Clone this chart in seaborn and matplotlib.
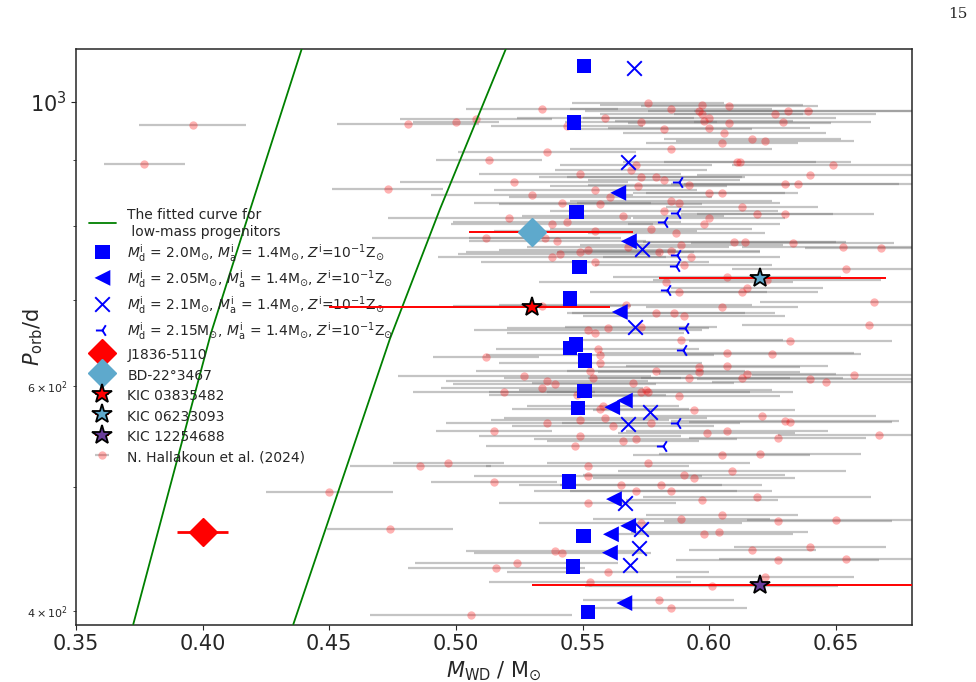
import matplotlib
matplotlib.use("Agg")
import matplotlib.pyplot as plt
import seaborn as sns

sns.set_style("ticks")
plt.rcParams["font.family"] = ["DejaVu Sans"]
plt.rcParams["mathtext.fontset"] = "dejavusans"

# fitted curves for low-mass progenitors
fit1_mass = [0.3726, 0.4033, 0.4187, 0.4391]
fit1_period = [390.3, 659.5, 823.1, 1100]
fit2_mass = [0.4358, 0.4739, 0.4937, 0.5197]
fit2_period = [390.3, 652.3, 824.5, 1100]

# binary models
sq_mass = [0.5506, 0.5467, 0.5477, 0.5487, 0.5450, 0.5474, 0.5450, 0.5509, 0.5507, 0.5482, 0.5447, 0.5503, 0.5462, 0.5521]
sq_period = [1067, 964, 820, 743, 702, 646, 642, 628, 594, 576, 505, 457.5, 433, 399]
tri_mass = [0.5641, 0.5683, 0.5647, 0.5667, 0.5617, 0.5624, 0.5680, 0.5612, 0.5608, 0.5665]
tri_period = [849, 778, 685, 584, 577, 489, 466, 459, 444, 405.5]
x_mass = [0.5704, 0.5681, 0.5733, 0.5707, 0.5766, 0.5678, 0.5667, 0.5730, 0.5724, 0.5687]
x_period = [1064, 898, 767, 667, 572, 560, 486, 463, 447.5, 434]
y_mass = [0.5880, 0.5871, 0.5821, 0.5871, 0.5868, 0.5832, 0.5904, 0.5897, 0.5874, 0.5819]
y_period = [865, 818, 805, 759, 744, 713, 665, 639.5, 561, 538]

model_labels = [
    r"$M_{\rm d}^{\rm i}$ = 2.0M$_{\odot}$, $M_{\rm a}^{\rm i}$ = 1.4M$_{\odot}$, $Z^{\rm i}$=10$^{-1}$Z$_{\odot}$",
    r"$M_{\rm d}^{\rm i}$ = 2.05M$_{\odot}$, $M_{\rm a}^{\rm i}$ = 1.4M$_{\odot}$, $Z^{\rm i}$=10$^{-1}$Z$_{\odot}$",
    r"$M_{\rm d}^{\rm i}$ = 2.1M$_{\odot}$, $M_{\rm a}^{\rm i}$ = 1.4M$_{\odot}$, $Z^{\rm i}$=10$^{-1}$Z$_{\odot}$",
    r"$M_{\rm d}^{\rm i}$ = 2.15M$_{\odot}$, $M_{\rm a}^{\rm i}$ = 1.4M$_{\odot}$, $Z^{\rm i}$=10$^{-1}$Z$_{\odot}$",
]

# observed systems: mass, period, lower / upper mass error
obs_names = ["J1836-5110", "BD-22°3467", "KIC 03835482", "KIC 06233093", "KIC 12254688"]
obs_mass = [0.40, 0.53, 0.53, 0.62, 0.62]
obs_period = [461, 791, 691, 728, 419]
obs_err_lo = [0.01, 0.025, 0.08, 0.04, 0.09]
obs_err_hi = [0.01, 0.040, 0.031, 0.05, 0.09]

# N. Hallakoun et al. (2024)
hk_mass = [
    0.396, 0.377, 0.481, 0.473, 0.576, 0.585, 0.534, 0.500, 0.508, 0.559, 0.573, 0.544, 0.582, 0.585,
    0.536, 0.513, 0.571, 0.569, 0.549, 0.573, 0.579, 0.582, 0.523, 0.592, 0.572, 0.555, 0.530, 0.561,
    0.542, 0.557, 0.585, 0.588, 0.582, 0.566, 0.521, 0.538, 0.544, 0.577, 0.555, 0.587, 0.512, 0.535,
    0.540, 0.589, 0.568, 0.552, 0.549, 0.541, 0.538, 0.580, 0.585, 0.590, 0.555, 0.583, 0.588, 0.534,
    0.567, 0.579, 0.586, 0.590, 0.560, 0.552, 0.555, 0.597, 0.608, 0.596, 0.597, 0.626, 0.631, 0.639,
    0.600, 0.598, 0.608, 0.629, 0.600, 0.606, 0.617, 0.622, 0.605, 0.611, 0.612, 0.649, 0.640, 0.630,
    0.635, 0.600, 0.605, 0.613, 0.619, 0.630, 0.598, 0.600, 0.610, 0.614, 0.633, 0.653, 0.668, 0.593,
    0.654, 0.607, 0.623, 0.615, 0.613, 0.605, 0.665, 0.663, 0.573, 0.589, 0.512, 0.556, 0.557, 0.557,
    0.553, 0.579, 0.527, 0.554, 0.536, 0.539, 0.570, 0.534, 0.519, 0.548, 0.573, 0.575, 0.576, 0.588,
    0.558, 0.557, 0.559, 0.549, 0.536, 0.577, 0.562, 0.515, 0.549, 0.571, 0.566, 0.547, 0.497, 0.576,
    0.552, 0.590, 0.552, 0.515, 0.565, 0.581, 0.571, 0.585, 0.552, 0.589, 0.573, 0.539, 0.542, 0.524,
    0.516, 0.560, 0.553, 0.580, 0.585, 0.506, 0.632, 0.607, 0.625, 0.596, 0.596, 0.607, 0.615, 0.613,
    0.592, 0.657, 0.640, 0.646, 0.594, 0.621, 0.630, 0.632, 0.599, 0.607, 0.627, 0.667, 0.605, 0.620,
    0.609, 0.594, 0.619, 0.597, 0.605, 0.627, 0.650, 0.604, 0.598, 0.640, 0.617, 0.627, 0.654, 0.622,
    0.601, 0.486, 0.450, 0.474,
]
hk_period = [
    960, 894, 961, 855, 998, 988, 987, 965, 970, 971, 964, 958, 952, 919,
    913, 900, 893, 885, 878, 873, 873, 869, 866, 861, 860, 854, 846, 843,
    834, 832, 837, 833, 822, 815, 811, 803, 806, 795, 793, 790, 782, 783,
    779, 773, 770, 766, 763, 760, 757, 763, 765, 746, 749, 723, 710, 692,
    694, 684, 684, 680, 666, 663, 659, 994, 993, 984, 979, 979, 983, 984,
    972, 967, 962, 964, 954, 946, 935, 932, 929, 897, 897, 893, 877, 862,
    862, 848, 848, 827, 817, 817, 802, 812, 777, 777, 775, 770, 769, 756,
    740, 730, 725, 715, 710, 691, 697, 669, 667, 651, 632, 641, 634, 625,
    616, 616, 610, 608, 605, 602, 603, 597, 593, 590, 593, 595, 593, 589,
    578, 575, 566, 564, 561, 561, 558, 553, 548, 545, 543, 538, 522, 522,
    519, 511, 510, 504, 502, 502, 496, 496, 486, 472, 468, 445, 444, 436,
    432, 429, 421, 408, 402, 397, 650, 636, 635, 620, 615, 621, 613, 608,
    608, 612, 607, 604, 574, 568, 563, 562, 551, 553, 546, 549, 529, 530,
    514, 508, 491, 488, 475, 470, 471, 461, 459, 449, 446, 438, 439, 425,
    418, 519, 495, 463,
]
hk_err = [
    0.021, 0.016, 0.028, 0.022, 0.030, 0.040, 0.030, 0.017, 0.030, 0.035, 0.030, 0.030, 0.035, 0.040,
    0.035, 0.021, 0.030, 0.030, 0.040, 0.040, 0.035, 0.030, 0.045, 0.040, 0.035, 0.040, 0.040, 0.040,
    0.035, 0.040, 0.040, 0.040, 0.045, 0.040, 0.048, 0.040, 0.045, 0.040, 0.040, 0.035, 0.045, 0.030,
    0.035, 0.040, 0.040, 0.035, 0.045, 0.040, 0.045, 0.040, 0.035, 0.035, 0.045, 0.050, 0.035, 0.035,
    0.050, 0.035, 0.040, 0.040, 0.040, 0.045, 0.035, 0.040, 0.035, 0.045, 0.040, 0.040, 0.055, 0.045,
    0.050, 0.035, 0.040, 0.035, 0.040, 0.040, 0.035, 0.035, 0.030, 0.045, 0.030, 0.040, 0.045, 0.045,
    0.045, 0.030, 0.030, 0.030, 0.030, 0.035, 0.030, 0.030, 0.040, 0.040, 0.040, 0.040, 0.030, 0.035,
    0.045, 0.045, 0.045, 0.030, 0.030, 0.030, 0.045, 0.050, 0.030, 0.040, 0.021, 0.040, 0.045, 0.040,
    0.045, 0.035, 0.050, 0.035, 0.040, 0.040, 0.040, 0.040, 0.036, 0.035, 0.060, 0.050, 0.040, 0.040,
    0.030, 0.035, 0.040, 0.035, 0.040, 0.035, 0.040, 0.023, 0.040, 0.040, 0.030, 0.035, 0.022, 0.040,
    0.040, 0.040, 0.045, 0.025, 0.040, 0.040, 0.040, 0.040, 0.035, 0.035, 0.040, 0.035, 0.035, 0.040,
    0.035, 0.040, 0.040, 0.030, 0.030, 0.040, 0.040, 0.050, 0.035, 0.040, 0.040, 0.040, 0.035, 0.040,
    0.040, 0.040, 0.045, 0.045, 0.040, 0.045, 0.045, 0.040, 0.035, 0.040, 0.035, 0.040, 0.035, 0.040,
    0.045, 0.040, 0.045, 0.030, 0.030, 0.045, 0.035, 0.035, 0.035, 0.030, 0.025, 0.040, 0.050, 0.035,
    0.050, 0.028, 0.025, 0.025,
]

fig = plt.figure(figsize=(9.76, 6.82), dpi=100)
ax = fig.add_axes([0.0779, 0.0840, 0.8563, 0.8441])

# Hallakoun sample
ax.errorbar(hk_mass, hk_period, xerr=hk_err, fmt="o", ms=6,
            mfc=(1, 0, 0, 0.3), mec="none",
            ecolor=(0.45, 0.45, 0.45, 0.42), elinewidth=1.6, capsize=0,
            zorder=2, label="N. Hallakoun et al. (2024)")

# fitted curves
ax.plot(fit1_mass, fit1_period, color="green", lw=1.3, zorder=3,
        label="The fitted curve for\n low-mass progenitors")
ax.plot(fit2_mass, fit2_period, color="green", lw=1.3, zorder=3)

# models
sns.scatterplot(x=sq_mass, y=sq_period, marker="s", color="blue", s=110,
                edgecolor="none", ax=ax, zorder=5, label=model_labels[0])
sns.scatterplot(x=tri_mass, y=tri_period, marker="<", color="blue", s=130,
                edgecolor="none", ax=ax, zorder=5, label=model_labels[1])
sns.scatterplot(x=x_mass, y=x_period, marker="x", color="blue", s=110,
                linewidth=1.4, ax=ax, zorder=5, label=model_labels[2])
sns.scatterplot(x=y_mass, y=y_period, marker="3", color="blue", s=90,
                linewidth=1.4, ax=ax, zorder=5, label=model_labels[3])

# observed systems
obs_style = [
    dict(fmt="D", ms=14, mfc="red", mec="red", elinewidth=2.0),
    dict(fmt="D", ms=14, mfc="#5ea9cc", mec="#5ea9cc", elinewidth=1.4),
    dict(fmt="*", ms=15, mfc="red", mec="black", mew=1.3, elinewidth=1.4),
    dict(fmt="*", ms=15, mfc="#5ea9cc", mec="black", mew=1.3, elinewidth=1.4),
    dict(fmt="*", ms=15, mfc="#6a3d9a", mec="black", mew=1.3, elinewidth=1.4),
]
for i, name in enumerate(obs_names):
    ax.errorbar([obs_mass[i]], [obs_period[i]],
                xerr=[[obs_err_lo[i]], [obs_err_hi[i]]],
                ecolor="red", capsize=0, zorder=6, label=name, **obs_style[i])

ax.set_yscale("log")
ax.set_xlim(0.35, 0.68)
ax.set_ylim(390, 1100)
ax.set_xticks([0.35, 0.40, 0.45, 0.50, 0.55, 0.60, 0.65])
ax.set_xticklabels(["0.35", "0.40", "0.45", "0.50", "0.55", "0.60", "0.65"])
ax.tick_params(axis="both", which="major", labelsize=15)
ax.tick_params(axis="y", which="minor", labelsize=8)
for s in ax.spines.values():
    s.set_linewidth(1.1)

ax.set_xlabel(r"$M_{\rm WD}$ / M$_{\odot}$", fontsize=15)
ax.set_ylabel(r"$P_{\rm orb}$/d", fontsize=15)
ax.yaxis.set_label_coords(-0.037, 0.5)

handles, labels = ax.get_legend_handles_labels()
order = ["The fitted curve for\n low-mass progenitors"] + model_labels + obs_names + ["N. Hallakoun et al. (2024)"]
lut = dict(zip(labels, handles))
ax.legend([lut[k] for k in order], order, loc="upper left",
          bbox_to_anchor=(0.0, 0.745), frameon=False, fontsize=10,
          handletextpad=0.8, labelspacing=0.29, handleheight=1.45,
          markerscale=1.0)

fig.text(958 / 976, 1 - 14 / 682, "15", ha="center", va="center",
         fontsize=11, family="DejaVu Serif")

fig.savefig("out.png", dpi=100)
